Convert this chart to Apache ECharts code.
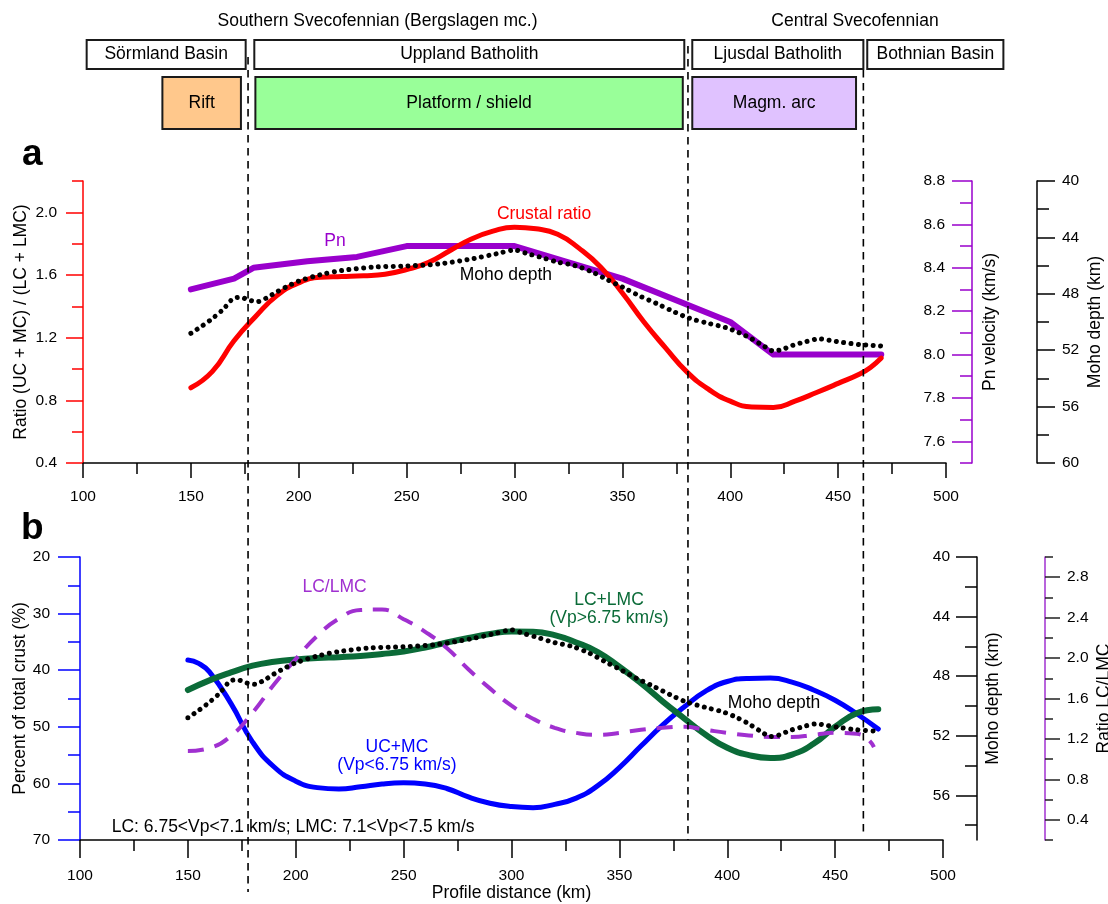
<!DOCTYPE html>
<html><head><meta charset="utf-8">
<script src="https://cdn.jsdelivr.net/npm/echarts@6/dist/echarts.min.js"></script>
<style>html,body{margin:0;padding:0;background:#fff}#c{width:1108px;height:904px}</style>
</head><body><div id="c"></div>
<script>
// ================= DATA =================
const xTicks = [100, 150, 200, 250, 300, 350, 400, 450, 500];

// Panel a: crustal ratio (UC+MC)/(LC+LMC)  [km, ratio]
const crustalRatio = [[150,0.88],[160,0.985],[170,1.18],[180,1.335],[190,1.47],[200,1.55],[210,1.585],[220,1.59],[230,1.595],[240,1.605],[250,1.635],[260,1.68],[270,1.755],[280,1.83],[290,1.88],[300,1.905],[310,1.895],[320,1.86],[330,1.77],[340,1.65],[350,1.485],[360,1.30],[370,1.135],[380,0.98],[390,0.87],[400,0.795],[410,0.758],[420,0.755],[430,0.795],[440,0.85],[450,0.908],[460,0.968],[465,1.01],[470,1.07]];
// Panel a: Pn velocity [km, km/s]
const pnVelocity = [[150,8.30],[170,8.35],[179,8.40],[204,8.43],[227,8.45],[250,8.50],[300,8.50],[350,8.35],[400,8.15],[420,8.00],[470,8.00]];
// Moho depth [km, depth km] (shown in both panels)
const mohoDepth = [[150,50.8],[155,50.3],[160,49.75],[165,49.1],[170,48.3],[173,48.25],[177,48.45],[181,48.55],[185,48.3],[190,47.85],[195,47.45],[200,47.1],[210,46.65],[220,46.35],[235,46.1],[250,46.03],[265,45.88],[281,45.5],[292,45.15],[300,44.9],[306,45.15],[312,45.4],[320,45.75],[328,46.0],[336,46.45],[343,47.0],[351,47.6],[358,48.15],[366,48.7],[374,49.28],[381,49.73],[390,50.1],[398,50.4],[404,50.75],[410,51.2],[416,51.75],[420,52.05],[424,51.95],[429,51.65],[435,51.4],[441,51.2],[446,51.3],[452,51.45],[460,51.6],[470,51.7]];
// Panel b: UC+MC percent of total crust [km, %]
const ucmcPercent = [[150,38.2],[155,38.8],[160,40.3],[170,45.9],[180,52.7],[190,57.1],[200,59.6],[210,60.75],[220,61.0],[230,60.6],[240,60.1],[250,59.9],[260,60.1],[270,60.9],[280,62.4],[290,63.5],[300,64.1],[310,64.3],[320,63.7],[330,62.6],[340,60.4],[350,57.2],[360,53.4],[370,49.7],[380,46.5],[390,43.7],[400,42.0],[410,41.45],[420,41.4],[430,42.1],[440,43.5],[450,45.3],[460,47.7],[470,50.4]];
// Panel b: LC+LMC percent of total crust [km, %]
const lclmcPercent = [[150,43.5],[160,41.8],[170,40.4],[180,39.2],[190,38.5],[200,38.1],[210,37.85],[220,37.7],[230,37.5],[240,37.15],[250,36.7],[260,36.0],[270,35.1],[280,34.3],[290,33.6],[300,33.15],[310,33.2],[320,33.8],[330,35.1],[340,36.8],[350,39.4],[360,42.3],[370,45.5],[380,48.5],[390,51.4],[400,53.7],[410,55.0],[420,55.5],[430,54.9],[440,53.0],[450,50.0],[460,47.6],[470,46.9]];
// Panel b: ratio LC/LMC [km, ratio]
const lcLmcRatio = [[150,1.08],[160,1.11],[170,1.23],[180,1.46],[190,1.74],[200,1.99],[210,2.22],[220,2.39],[230,2.475],[240,2.48],[250,2.385],[260,2.26],[270,2.10],[280,1.89],[290,1.70],[300,1.53],[310,1.40],[320,1.31],[330,1.26],[340,1.24],[350,1.26],[360,1.29],[370,1.31],[380,1.32],[390,1.29],[400,1.26],[410,1.235],[420,1.22],[430,1.22],[440,1.24],[450,1.26],[460,1.25],[465,1.20],[468,1.12]];

// Domain boundaries (km)
const boundaryKm = [176.5, 380.4, 461.7];
// Geological units (km ranges)
const unitNames = ['Sörmland Basin', 'Uppland Batholith', 'Ljusdal Batholith', 'Bothnian Basin'];
const unitStart = [101.7, 179.4, 382.4, 463.5];
const unitEnd   = [175.4, 378.7, 461.7, 526.6];
const settingNames = ['Rift', 'Platform / shield', 'Magm. arc'];
const settingStart = [136.8, 179.9, 382.4];
const settingEnd   = [173.2, 378.0, 458.3];
const provinceNames = ['Southern Svecofennian (Bergslagen mc.)', 'Central Svecofennian'];
const provinceCenterKm = [236.5, 457.8];

// Tick values
const ratioMajor = [0.4, 0.8, 1.2, 1.6, 2.0], ratioMinor = [0.6, 1.0, 1.4, 1.8, 2.2];
const pnMajor = [7.6, 7.8, 8.0, 8.2, 8.4, 8.6, 8.8], pnMinor = [7.5, 7.7, 7.9, 8.1, 8.3, 8.5, 8.7];
const mohoAMajor = [40, 44, 48, 52, 56, 60], mohoAMinor = [42, 46, 50, 54, 58];
const pctMajor = [20, 30, 40, 50, 60, 70], pctMinor = [25, 35, 45, 55, 65];
const mohoBMajor = [40, 44, 48, 52, 56], mohoBMinor = [42, 46, 50, 54, 58];
const lcrMajor = [0.4, 0.8, 1.2, 1.6, 2.0, 2.4, 2.8], lcrMinor = [0.2, 0.6, 1.0, 1.4, 1.8, 2.2, 2.6, 3.0];

// ================= STYLE / LAYOUT =================
const FONT = 'Arial, "Liberation Sans", Helvetica, sans-serif';
const COL = { red:'#ff0000', pn:'#9900cc', lcr:'#a030d0', blue:'#0000ff', green:'#0b6b38', black:'#000000' };
const TXT = 17.5, TICK = 15.5;
const HEADER_ROWS = [[40, 69], [77, 129]];          // layout rows in overlay px
const SETTING_FILL = ['#ffc88c', '#99ff99', '#e0c2ff'];
const BOUNDARY_SPAN = [[57, 892], [46, 840], [70, 835]];
const PROVINCE_Y = 21;

function axisPair(p) {
  const base = { type:'value', gridIndex:p.grid, min:p.min, max:p.max, inverse:!!p.inverse,
    position:p.position, offset:p.offset || 0, splitLine:{show:false}, minorSplitLine:{show:false} };
  const major = Object.assign({}, base, {
    name:p.name, nameLocation:'middle', nameRotate:90, nameGap:p.nameGap, nameMoveOverlap:false,
    nameTextStyle:{ color:'#000', fontSize:TXT, fontFamily:FONT },
    axisLine:{ show:true, onZero:false, lineStyle:{ color:p.lineColor, width:1.5 } },
    axisTick:{ show:true, inside:!!p.inside, length:p.majorLen, customValues:p.majors, lineStyle:{ color:p.tickColor, width:1.5 } },
    axisLabel:{ show:true, inside:!!p.inside, margin:p.margin, customValues:p.majors, color:'#000',
      fontSize:TICK, fontFamily:FONT, formatter:p.fmt }
  });
  const minor = Object.assign({}, base, {
    axisLine:{ show:false, onZero:false },
    axisTick:{ show:true, inside:!!p.inside, length:p.minorLen, customValues:p.minors, lineStyle:{ color:p.tickColor, width:1.5 } },
    axisLabel:{ show:false }
  });
  return [major, minor];
}
function xAxis(grid, margin, majorLen, name) {
  return { type:'value', gridIndex:grid, min:100, max:500, interval:50,
    axisLine:{ show:true, onZero:false, lineStyle:{ color:'#000', width:1.5 } },
    axisTick:{ show:true, length:majorLen, lineStyle:{ color:'#000', width:1.5 } },
    minorTick:{ show:true, splitNumber:2, length:11, lineStyle:{ color:'#000', width:1.5 } },
    axisLabel:{ margin:margin, color:'#000', fontSize:TICK, fontFamily:FONT, customValues:xTicks },
    splitLine:{show:false}, minorSplitLine:{show:false},
    name:name || '', nameLocation:'middle', nameGap:44, nameMoveOverlap:false,
    nameTextStyle:{ color:'#000', fontSize:TXT, fontFamily:FONT } };
}
const f1 = v => (+v).toFixed(1), f0 = v => String(Math.round(v));

const yAxes = [].concat(
  axisPair({grid:0, min:0.4, max:2.2, position:'left', lineColor:COL.red, tickColor:COL.red, majors:ratioMajor, minors:ratioMinor,
    majorLen:17, minorLen:11, margin:26, fmt:f1, name:'Ratio (UC + MC) / (LC + LMC)', nameGap:53}),            // 0,1
  axisPair({grid:0, min:7.5, max:8.8, position:'right', offset:26, inside:true, lineColor:COL.pn, tickColor:COL.pn,
    majors:pnMajor, minors:pnMinor, majorLen:20, minorLen:12, margin:27, fmt:f1, name:'Pn velocity (km/s)', nameGap:9}), // 2,3
  axisPair({grid:0, min:40, max:60, inverse:true, position:'right', offset:91, lineColor:'#000', tickColor:'#000',
    majors:mohoAMajor, minors:mohoAMinor, majorLen:18, minorLen:12, margin:25, fmt:f0, name:'Moho depth (km)', nameGap:49}), // 4,5
  axisPair({grid:1, min:20, max:70, inverse:true, position:'left', lineColor:COL.blue, tickColor:COL.blue,
    majors:pctMajor, minors:pctMinor, majorLen:22, minorLen:12, margin:30, fmt:f0, name:'Percent of total crust (%)', nameGap:51}), // 6,7
  axisPair({grid:1, min:40, max:59, inverse:true, position:'right', offset:34, inside:true, lineColor:'#000', tickColor:'#000',
    majors:mohoBMajor, minors:mohoBMinor, majorLen:21, minorLen:12, margin:27, fmt:f0, name:'Moho depth (km)', nameGap:7}), // 8,9
  axisPair({grid:1, min:0.2, max:3.0, position:'right', offset:102, lineColor:COL.lcr, tickColor:'#222',
    majors:lcrMajor, minors:lcrMinor, majorLen:15, minorLen:8, margin:22, fmt:f1, name:'Ratio LC/LMC', nameGap:50}), // 10,11
  [{ type:'value', gridIndex:2, min:0, max:904, inverse:true, show:false }]                                      // 12
);

function lineSeries(xi, yi, data, color, width, extra) {
  return Object.assign({ type:'line', xAxisIndex:xi, yAxisIndex:yi, data:data, showSymbol:false, symbol:'none',
    smooth:0.5, silent:true,
    lineStyle:{ color:color, width:width, cap:'round', join:'round' } }, extra || {});
}
const dotted = { color:'#000', width:5, type:[0.01, 7.4], cap:'round' };

function annot(xi, yi, items) {
  return { type:'scatter', xAxisIndex:xi, yAxisIndex:yi, symbolSize:0, silent:true, z:20,
    itemStyle:{ opacity:1 },
    data: items.map(it => ({ value:[it.x, it.y], label:{ show:true, position:'inside', formatter:it.text,
      color:it.color, opacity:1, textBorderWidth:0, textShadowBlur:0,
      fontSize:TXT, fontFamily:FONT, lineHeight:18, align:it.align || 'center' } })) };
}

const headerItems = unitNames.map((n, i) => ({ value:[unitStart[i], unitEnd[i], 0], text:n, fill:'#ffffff' }))
  .concat(settingNames.map((n, i) => ({ value:[settingStart[i], settingEnd[i], 1], text:n, fill:SETTING_FILL[i] })));

const option = {
  animation:false,
  backgroundColor:'#ffffff',
  grid:[
    { left:83, right:162, top:181, height:282, outerBoundsMode:'none' },
    { left:80, right:165, top:557, height:283, outerBoundsMode:'none' },
    { left:83, right:162, top:0, height:904, outerBoundsMode:'none' }
  ],
  xAxis:[ xAxis(0, 26, 15), xAxis(1, 28, 18, 'Profile distance (km)'),
          { type:'value', gridIndex:2, min:100, max:500, show:false } ],
  yAxis:yAxes,
  graphic:[
    { type:'text', x:22, y:155, style:{ text:'a', font:'bold 37px Arial', fill:'#000', verticalAlign:'middle' } },
    { type:'text', x:21, y:529, style:{ text:'b', font:'bold 37px Arial', fill:'#000', verticalAlign:'middle' } }
  ],
  series:[
    // header boxes
    { type:'custom', xAxisIndex:2, yAxisIndex:12, clip:false, silent:true, z:3,
      data: headerItems.map(h => h.value),
      renderItem:(params, api) => {
        const h = headerItems[params.dataIndex];
        const r = HEADER_ROWS[api.value(2)];
        const a = api.coord([api.value(0), r[0]]), b = api.coord([api.value(1), r[1]]);
        return { type:'rect', shape:{ x:a[0], y:a[1], width:b[0]-a[0], height:b[1]-a[1] },
          style:{ fill:h.fill, stroke:'#1a1a1a', lineWidth:2 },
          textContent:{ style:{ text:h.text, fill:'#000', fontSize:TXT, fontFamily:FONT } },
          textConfig:{ position:'inside' } };
      } },
    // province titles
    annot(2, 12, provinceNames.map((t, i) => ({ x:provinceCenterKm[i], y:PROVINCE_Y, text:t, color:'#000' }))),
    // panel a
    lineSeries(0, 2, pnVelocity, COL.pn, 6, { smooth:false }),
    lineSeries(0, 0, crustalRatio, COL.red, 5),
    lineSeries(0, 4, mohoDepth, '#000', 5, { smooth:0.3, lineStyle:dotted }),
    // panel b
    lineSeries(1, 6, ucmcPercent, COL.blue, 5),
    lineSeries(1, 6, lclmcPercent, COL.green, 6),
    lineSeries(1, 10, lcLmcRatio, COL.lcr, 4, { lineStyle:{ color:COL.lcr, width:4, type:[16, 11] } }),
    lineSeries(1, 8, mohoDepth, '#000', 5, { smooth:0.3, lineStyle:dotted }),
    // labels panel a (ratio axis units)
    annot(0, 0, [
      { x:313.7, y:1.987, text:'Crustal ratio', color:COL.red },
      { x:216.8, y:1.815, text:'Pn', color:COL.pn },
      { x:296.0, y:1.598, text:'Moho depth', color:'#000' }
    ]),
    // labels panel b (percent axis units)
    annot(1, 6, [
      { x:218.0, y:25.3, text:'LC/LMC', color:COL.lcr },
      { x:345.2, y:29.2, text:'LC+LMC\n(Vp>6.75 km/s)', color:COL.green },
      { x:246.9, y:55.2, text:'UC+MC\n(Vp<6.75 km/s)', color:COL.blue },
      { x:421.7, y:45.8, text:'Moho depth', color:'#000' },
      { x:114.7, y:67.8, text:'LC: 6.75<Vp<7.1 km/s; LMC: 7.1<Vp<7.5 km/s', color:'#000', align:'left' }
    ]),
    // boundary dashed lines
    { type:'custom', xAxisIndex:2, yAxisIndex:12, clip:false, silent:true, z:15,
      data: boundaryKm.map((k, i) => [k, BOUNDARY_SPAN[i][0], BOUNDARY_SPAN[i][1]]),
      renderItem:(params, api) => {
        const a = api.coord([api.value(0), api.value(1)]), b = api.coord([api.value(0), api.value(2)]);
        return { type:'line', shape:{ x1:a[0], y1:a[1], x2:b[0], y2:b[1] },
          style:{ stroke:'#000', lineWidth:1.6, lineDash:[7.5, 5.5] } };
      } }
  ]
};
const chart = echarts.init(document.getElementById('c'), null, { renderer:'canvas', width:1108, height:904 });
chart.setOption(option);
</script></body></html>
